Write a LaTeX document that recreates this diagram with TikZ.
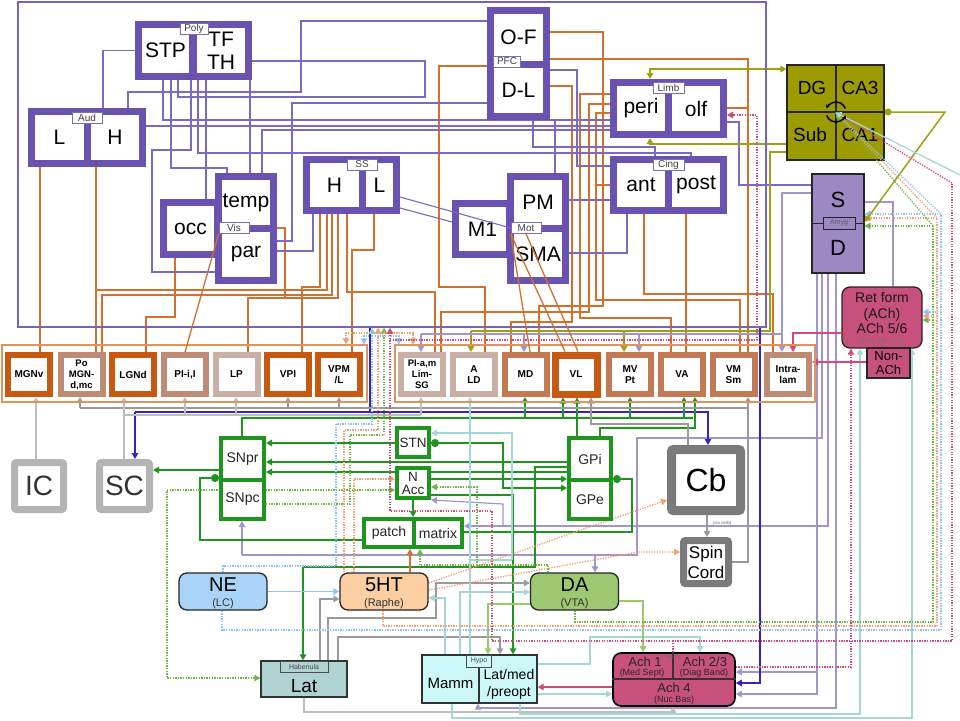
\documentclass[tikz,border=0pt]{standalone}
\usepackage{fontspec}
\setmainfont{Liberation Sans}
\usetikzlibrary{arrows.meta}
\definecolor{cpur}{HTML}{6A52B0}
\definecolor{lpur}{HTML}{7A6AC2}
\definecolor{lav}{HTML}{A394CC}
\definecolor{dorg}{HTML}{C65A12}
\definecolor{ctan}{HTML}{BC8C76}
\definecolor{ltan}{HTML}{C9B0A6}
\definecolor{morg}{HTML}{C27A55}
\definecolor{oline}{HTML}{D2702E}
\definecolor{grn}{HTML}{1E961E}
\definecolor{lgrn}{HTML}{98C870}
\definecolor{gbox}{HTML}{B4B4B4}
\definecolor{dgbox}{HTML}{7A7A7A}
\definecolor{gline}{HTML}{9A9A9A}
\definecolor{lgline}{HTML}{BEBEBE}
\definecolor{blu}{HTML}{3A22C0}
\definecolor{cyanl}{HTML}{A6D6D6}
\definecolor{pinkd}{HTML}{D2497A}
\definecolor{lblue}{HTML}{8EC4F2}
\definecolor{orgd}{HTML}{F2A070}
\definecolor{grnd}{HTML}{6FB848}
\definecolor{hipcol}{HTML}{9C9C00}
\definecolor{hipline}{HTML}{A0A010}
\definecolor{achcol}{HTML}{C8507C}
\definecolor{amycol}{HTML}{9B89C3}
\definecolor{necol}{HTML}{A9D3F7}
\definecolor{htcol}{HTML}{FBCFA2}
\definecolor{dacol}{HTML}{9DC771}
\definecolor{habcol}{HTML}{AFD3D0}
\definecolor{hypcol}{HTML}{CDF8F8}
\pgfdeclarelayer{bg}
\pgfsetlayers{bg,main}
\begin{document}
\begin{tikzpicture}[x=1pt,y=-1pt,
  pbox/.style={draw=cpur, line width=7pt, fill=white, inner sep=0pt, align=center, font=\fontsize{21}{23}\selectfont},
  ptab/.style={draw=cpur!85, line width=0.6pt, fill=white, inner sep=0pt, minimum height=11pt, font=\fontsize{10}{10}\selectfont, text=black!75},
  thbox/.style={line width=6pt, fill=white, minimum width=42pt, minimum height=39pt, inner sep=0pt, align=center, font=\bfseries\fontsize{10}{11.5}\selectfont},
  thd/.style={thbox, draw=dorg},
  tht/.style={thbox, draw=ctan},
  thl/.style={thbox, draw=ltan},
  thm/.style={thbox, draw=morg},
  gbx/.style={draw=grn, line width=4pt, fill=white, inner sep=0pt, align=center, font=\fontsize{14}{14}\selectfont, text=black!85},
  grb/.style={draw=gbox, line width=7pt, fill=white, inner sep=0pt, rounded corners=2pt, font=\fontsize{28}{28}\selectfont, text=black!80},
  chem/.style={rounded corners=8pt, draw=black!85, line width=1.3pt, inner sep=0pt, minimum width=88pt, minimum height=37pt},
  arr/.style={->, >={Triangle[length=6pt,width=6.5pt]}},
  barr/.style={<->, >={Triangle[length=6pt,width=6.5pt]}},
  dotl/.style={dash pattern=on 1.3pt off 1.3pt, line width=1.3pt},
  lo/.style={draw=oline, line width=1.3pt},
  lp/.style={draw=lpur, line width=1.1pt},
  lv/.style={draw=lav, line width=1.2pt},
  lg/.style={draw=grn, line width=1.6pt},
  lol/.style={draw=hipline, line width=1.5pt},
  lb/.style={draw=blu, line width=1.4pt},
  lgr/.style={draw=gline, line width=1.3pt},
  llg/.style={draw=lgline, line width=1.4pt},
  lc/.style={draw=cyanl, line width=1.3pt},
  lpk/.style={draw=pinkd, line width=1.3pt},
  lgn/.style={draw=lgrn, line width=1.5pt},
  lbs/.style={draw=lblue, line width=1.5pt},
  small/.style={font=\fontsize{#1}{#1}\selectfont}
]
\useasboundingbox (0,0) rectangle (960,720);

% ---------------- cortex frame
\node[draw=cpur!90, line width=1.5pt, minimum width=748pt, minimum height=325pt, inner sep=0pt] (ctx) at (392,164.5) {};

% Poly
\node[pbox, minimum width=54pt, minimum height=52pt] (stp) at (165.5,50.5) {STP};
\node[pbox, minimum width=55pt, minimum height=52pt] (tfth) at (221,50.5) {TF\\TH};
\node[ptab, minimum width=28pt] (polytab) at (194,28.5) {Poly};
% Aud
\node[pbox, minimum width=56pt, minimum height=52pt] (audL) at (59.5,137.5) {L};
\node[pbox, minimum width=55pt, minimum height=52pt] (audH) at (115,137.5) {H};
\node[ptab, minimum width=30pt] (audtab) at (87,117.5) {Aud};
% Vis
\node[pbox, minimum width=54pt, minimum height=52pt] (occ) at (190.5,228.5) {occ};
\node[pbox, minimum width=55pt, minimum height=52pt] (temp) at (246,202.5) {temp};
\node[pbox, minimum width=55pt, minimum height=52pt] (par) at (246,254.5) {par};
\node[ptab, minimum width=30pt] (vistab) at (234,228) {Vis};
% SS
\node[pbox, minimum width=56pt, minimum height=51pt] (ssH) at (334.5,185) {H};
\node[pbox, minimum width=34pt, minimum height=51pt] (ssL) at (379.5,185) {L};
\node[ptab, minimum width=30pt] (sstab) at (362,164.5) {SS};
% PFC
\node[pbox, minimum width=56pt, minimum height=54pt] (pfcOF) at (518.5,37.5) {O-F};
\node[pbox, minimum width=56pt, minimum height=52pt] (pfcDL) at (518.5,90.5) {D-L};
\node[ptab, minimum width=27pt] (pfctab) at (507,61.5) {PFC};
% Limb
\node[pbox, minimum width=55pt, minimum height=52pt] (peri) at (641,108.5) {peri};
\node[pbox, minimum width=55pt, minimum height=52pt] (olf) at (696,108.5) {olf};
\node[ptab, minimum width=31pt] (limbtab) at (668.5,88) {Limb};
% Cing
\node[pbox, minimum width=55pt, minimum height=51pt] (ant) at (641,185) {ant};
\node[pbox, minimum width=55pt, minimum height=51pt] (post) at (696,185) {post};
\node[ptab, minimum width=31pt] (cingtab) at (668.5,164.5) {Cing};
% Mot
\node[pbox, minimum width=54pt, minimum height=51pt] (m1) at (482.5,229) {M1};
\node[pbox, minimum width=55pt, minimum height=52pt] (pm) at (538,202.5) {PM};
\node[pbox, minimum width=55pt, minimum height=52pt] (sma) at (538,254.5) {SMA};
\node[ptab, minimum width=30pt] (mottab) at (526,228) {Mot};

% ---------------- hippocampus
\node[draw=black!85, fill=hipcol, line width=1.2pt, minimum width=97pt, minimum height=95pt, inner sep=0pt] (hip) at (835.5,112.5) {};
\draw[line width=1.2pt, black!85] (hip.west |- 0,112) -- (hip.east |- 0,112);
\draw[line width=1.2pt, black!85] (836,0 |- hip.north) -- (836,0 |- hip.south);
\node[small=19] (dgT) at (812,88) {DG};
\node[small=19] (ca3T) at (860,88) {CA3};
\node[small=19] (subT) at (810,135) {Sub};
\node[small=19] (ca1T) at (860,135) {CA1};

% ---------------- amygdala
\node[draw=black!85, fill=amycol, line width=1.2pt, minimum width=52pt, minimum height=99pt, inner sep=0pt] (amyg) at (838,223.5) {};
\node[small=22] (amyS) at (838,200) {S};
\node[small=22] (amyD) at (838,248) {D};
\node[draw=black!85, fill=amycol, line width=1pt, inner sep=0pt, minimum width=32pt, minimum height=12pt, small=7, text=black!65] (amytab) at (839,223) {Amyg};
\draw[line width=1pt, black!85] (amyg.west |- amytab.west) -- (amytab.west);
\draw[line width=1pt, black!85] (amytab.east) -- (amyg.east |- amytab.east);

% ---------------- reticular formation
\node[draw=black!85, fill=achcol, line width=1.3pt, rounded corners=8pt, minimum width=80pt, minimum height=61pt, inner sep=0pt] (retform) at (882,317.5) {};
\node[font=\fontsize{14}{15.5}\selectfont, align=center, text=black!90] (rftxt) at (882,313) {Ret form\\(ACh)\\ACh 5/6};
\node[small=6.5, text=black!55] (rfsub) at (882,342) {(FTC, PB, LOT)};
\node[draw=black!85, fill=achcol, line width=1.2pt, minimum width=43pt, minimum height=30pt, inner sep=0pt, align=center, font=\fontsize{13}{14}\selectfont] (nonach) at (888.5,363) {Non-\\ACh};

% ---------------- thalamus
\node[draw=oline!75, line width=1.1pt, minimum width=365pt, minimum height=57pt, inner sep=0pt] (thL) at (184.5,373.5) {};
\node[draw=oline!75, line width=1.1pt, minimum width=420pt, minimum height=57pt, inner sep=0pt] (thR) at (605,373.5) {};
\node[thd] (mgnv) at (29,374.5) {MGNv};
\node[tht, font=\bfseries\fontsize{9.5}{11}\selectfont] (po) at (81.5,374.5) {Po\\MGN-\\d,mc};
\node[thd] (lgnd) at (133,374.5) {LGNd};
\node[tht] (pii) at (185,374.5) {PI-i,I};
\node[thl] (lp) at (236.5,374.5) {LP};
\node[thd] (vpi) at (288,374.5) {VPI};
\node[thd] (vpml) at (339,374.5) {VPM\\/L};
\node[thl, font=\bfseries\fontsize{9.5}{11}\selectfont] (pia) at (422,374.5) {PI-a,m\\Lim-\\SG};
\node[thl] (ald) at (474,374.5) {A\\LD};
\node[thm] (md) at (525.5,374.5) {MD};
\node[thd, line width=7pt] (vl) at (576,374.5) {VL};
\node[thm] (mvpt) at (630,374.5) {MV\\Pt};
\node[thm] (va) at (682,374.5) {VA};
\node[thm] (vmsm) at (733.5,374.5) {VM\\Sm};
\node[tht] (intra) at (788,374.5) {Intra-\\lam};

% ---------------- lower nodes
\node[grb, minimum width=49pt, minimum height=47pt] (ic) at (39,486) {IC};
\node[grb, minimum width=50pt, minimum height=47pt] (sc) at (124.5,486) {SC};
\node[gbx, minimum width=43pt, minimum height=42pt] (snpr) at (242.5,459) {SNpr};
\node[gbx, minimum width=43pt, minimum height=39pt] (snpc) at (242.5,499.5) {SNpc};
\node[gbx, minimum width=32pt, minimum height=29pt, font=\fontsize{13.5}{13.5}\selectfont] (stn) at (413,442.5) {STN};
\node[gbx, minimum width=32pt, minimum height=30pt, font=\fontsize{13.5}{13}\selectfont] (nacc) at (413,483) {N\\Acc};
\node[gbx, minimum width=50pt, minimum height=28pt] (patch) at (389,533) {patch};
\node[gbx, minimum width=48pt, minimum height=28pt] (matrix) at (438,533) {matrix};
\node[gbx, minimum width=42pt, minimum height=42pt] (gpi) at (590,459) {GPi};
\node[gbx, minimum width=42pt, minimum height=39pt] (gpe) at (590,499.5) {GPe};
\node[draw=dgbox, line width=9pt, fill=white, minimum width=69pt, minimum height=61pt, inner sep=0pt, rounded corners=2pt, font=\fontsize{32}{32}\selectfont] (cb) at (706,480) {Cb};
\node[draw=dgbox, line width=7pt, fill=white, minimum width=45pt, minimum height=43pt, inner sep=0pt, rounded corners=2pt, align=center, font=\fontsize{17}{20}\selectfont] (spin) at (706,562) {Spin\\Cord};
\node[small=4.5, text=black!60] (viacerb) at (722,523) {(via cerb)};

\node[chem, fill=necol] (ne) at (223,591.5) {};
\node[small=20] (netxt) at (223,585) {NE};
\node[small=11, text=black!80] (nesub) at (223,603.5) {(LC)};
\node[chem, fill=htcol] (ht5) at (384,591.5) {};
\node[small=20] (httxt) at (384,585) {5HT};
\node[small=11, text=black!80] (htsub) at (384,603.5) {(Raphe)};
\node[chem, fill=dacol] (da) at (574.5,591.5) {};
\node[small=20] (datxt) at (574.5,585) {DA};
\node[small=11, text=black!80] (dasub) at (574.5,603.5) {(VTA)};

\node[draw=black!80, fill=habcol, line width=1.3pt, minimum width=86pt, minimum height=36pt, inner sep=0pt] (lat) at (304,679) {};
\node[draw=black!70, fill=habcol, line width=0.8pt, inner sep=0pt, minimum width=48pt, minimum height=11pt, small=7, text=black!70] (habtab) at (304,666.5) {Habenula};
\node[small=19] (lattxt) at (304,686) {Lat};

\node[draw=black!80, fill=hypcol, line width=1.3pt, minimum width=57pt, minimum height=48pt, inner sep=0pt] (mamm) at (450.5,679) {};
\node[draw=black!80, fill=hypcol, line width=1.3pt, minimum width=58pt, minimum height=48pt, inner sep=0pt] (latmed) at (508,679) {};
\node[small=15] (mammtxt) at (450.5,683) {Mamm};
\node[font=\fontsize{14}{17}\selectfont, align=center] (latmedtxt) at (509,684) {Lat/med\\/preopt};
\node[draw=black!70, fill=hypcol, line width=0.8pt, inner sep=0pt, minimum width=25pt, minimum height=12pt, small=7, text=black!70] (hyptab) at (479,661) {Hypo};

\node[draw=black, line width=1.6pt, fill=achcol, rounded corners=8pt, minimum width=122pt, minimum height=53pt, inner sep=0pt] (ach) at (674,679.5) {};
\draw[line width=1.1pt, black!80] (ach.west |- 0,679) -- (ach.east |- 0,679);
\draw[line width=1.1pt, black!80] (673,0 |- ach.north) -- (673,679);
\node[small=13, text=black!85] (ach1) at (645,662) {Ach 1};
\node[small=9, text=black!85] (ach1s) at (642,673) {(Med Sept)};
\node[small=13, text=black!85] (ach23) at (705,662) {Ach 2/3};
\node[small=9, text=black!85] (ach23s) at (704,673) {(Diag Band)};
\node[small=13, text=black!85] (ach4) at (674,688) {Ach 4};
\node[small=9, text=black!85] (ach4s) at (674,700) {(Nuc Bas)};
\node[small=4.5, text=black!60] (achtab) at (673,656.5) {Bas Fb};

% ================= connectors (background)
\begin{pgfonlayer}{bg}
\fill[white] (0,0) rectangle (960,720);
% --- orange: cortex -> thalamus
\draw[lo] (40,0 |- audL.south) -- (40,0 |- mgnv.north);
\draw[lo] (96,0 |- audH.south) -- (96,0 |- po.north);
\draw[lo] (175,0 |- occ.south) -- (175,317) -- (146,317) -- (146,0 |- lgnd.north);
\draw[lo] (temp.east |- 0,228) -- (285,228) -- (285,298) -- (248,298) -- (248,0 |- lp.north);
\draw[lo] (320,0 |- ssH.south) -- (320,287) -- (302,287) -- (302,0 |- vpi.north);
\draw[lo] (327,0 |- ssH.south) -- (327,290) -- (96,290);
\draw[lo] (332,0 |- ssH.south) -- (332,295) -- (102,295) -- (102,0 |- po.north);
\draw[lo] (338,0 |- ssH.south) -- (338,298) -- (285,298);
\draw[lo] (347,0 |- ssH.south) -- (347,292) -- (435,292) -- (435,0 |- pia.north);
\draw[lo] (374,0 |- ssL.south) -- (374,250) -- (352,250) -- (352,0 |- vpml.north);
\draw[lo] (peri.west |- 0,94) -- (580,94) -- (580,318) -- (671,318) -- (671,0 |- va.north);
\draw[lo] (peri.west |- 0,104) -- (589,104) -- (589,312) -- (441,312) -- (441,0 |- pia.north);
\draw[lo] (peri.west |- 0,113) -- (596,113) -- (596,300) -- (740,300) -- (740,0 |- vmsm.north);
\draw[lo] (ant.west) -- (596,0 |- ant.west);
\draw[lo] (pfcOF.east |- 0,32) -- (603,32) -- (603,306) -- (539,306) -- (539,0 |- md.north);
\draw[lo] (pfcDL.east |- 0,86) -- (572,86) -- (572,322) -- (511,322) -- (511,0 |- md.north);
\draw[lo] (pfcDL.west |- 0,66) -- (439,66) -- (439,287) -- (485,287) -- (485,0 |- ald.north);
\draw[lo] (pfcOF.east |- 0,59) -- (748,59) -- (748,0 |- vmsm.north);
\draw[lo] (olf.east |- 0,108) -- (748,108);
\draw[lo] (644,0 |- ant.south) -- (644,294) -- (773,294) -- (773,0 |- intra.north);
\draw[lo] (686,0 |- post.south) -- (686,0 |- va.north);
% --- purple: cortico-cortical
\draw[lp] (stp.west) -- (103,0 |- stp.west) -- (103,0 |- audH.north);
\draw[lp] (128,0 |- audH.north) -- (128,92) -- (301,92) -- (301,21) -- (pfcOF.west |- 0,21);
\draw[lp] (tfth.east |- 0,61) -- (425,61) -- (425,97) -- (178,97) -- (178,0 |- stp.south);
\draw[lp] (audH.east |- 0,126) -- (peri.west |- 0,126);
\draw[lp] (163,0 |- stp.south) -- (163,120) -- (peri.west |- 0,120);
\draw[lp] (171,0 |- stp.south) -- (171,168) -- (227,168) -- (227,0 |- temp.north);
\draw[lp] (206,0 |- tfth.south) -- (206,0 |- occ.north);
\draw[lp] (250,0 |- tfth.south) -- (250,0 |- temp.north);
\draw[lp] (par.west |- 0,272) -- (152,272) -- (152,150) -- (191,150) -- (191,0 |- stp.south);
\draw[lp] (198,0 |- tfth.south) -- (198,153) -- (691,153) -- (691,0 |- post.north);
\draw[lp] (par.east |- 0,241) -- (292,241) -- (292,103) -- (pfcDL.west |- 0,103);
\draw[lp] (262,0 |- temp.north) -- (262,130) -- (peri.west |- 0,130);
\draw[lp] (par.east |- 0,251) -- (313,251) -- (313,0 |- ssH.south);
\draw[lp] (ssL.east |- 0,208) -- (m1.west |- 0,222);
\draw[lp] (533,0 |- pfcDL.south) -- (533,147) -- (655,147) -- (655,0 |- ant.north);
\draw[lp] (555,0 |- pfcDL.south) -- (555,0 |- pm.north);
\draw[lp] (pfcDL.east |- 0,70) -- (577,70) -- (577,166) -- (ant.west |- 0,166);
\draw[lp] (pm.east |- 0,200) -- (ant.west |- 0,200);
\draw[lp] (sma.east |- 0,253) -- (627,253) -- (627,0 |- ant.south);
\draw[lp] (olf.east |- 0,122) -- (739,122) -- (739,185) -- (amyg.west |- 0,185);
% --- hippocampus (olive)
\draw[lol, barr] (650,0 |- peri.north) -- (650,69) -- (hip.west |- 0,69);
\draw[lol, arr] (hip.west |- 0,144) -- (650,144) -- (650,0 |- peri.south);
\draw[lol] (hip.west |- 0,152) -- (770,152) -- (770,331) -- (471,331);
\draw[lol, arr] (471,331) -- (471,0 |- ald.north);
\draw[lol, arr] (624,331) -- (624,0 |- mvpt.north);
% --- amygdala (lavender)
\draw[lv] (amyg.west |- 0,193) -- (782,193) -- (782,334) -- (421,334);
\draw[lv, arr] (421,334) -- (421,0 |- pia.north);
\draw[lv, arr] (524,334) -- (524,0 |- md.north);
\draw[lv, arr] (639,334) -- (639,0 |- mvpt.north);
\draw[lv, arr] (782,334) -- (782,0 |- intra.north);
\draw[lv] (amyg.east |- 0,202) -- (893,202) -- (893,0 |- retform.north);
\draw[lv] (822,0 |- amyg.south) -- (822,438) -- (637,438) -- (637,555) -- (242,555);
\draw[lv, arr] (242,555) -- (242,0 |- snpc.south);
\draw[lv, arr] (595,555) -- (595,0 |- da.north);
\draw[lv, arr] (828,0 |- amyg.south) -- (828,526) -- (matrix.east |- 0,526);
\draw[lv, arr] (503,526) -- (503,504) -- (nacc.south east);
\draw[lv, arr] (817,0 |- amyg.south) -- (817,694) -- (ach.east |- 0,694);
\draw[lv, arr] (817,672) -- (ach.east |- 0,672);
\draw[lv, arr] (836,0 |- amyg.south) -- (836,708) -- (478,708) -- (478,0 |- latmed.south);
% --- cortex output (blue)
\draw[lb] (370,0 |- ctx.south) -- (370,412) -- (135,412);
\draw[lb, arr] (135,412) -- (135,0 |- sc.north);
\draw[lb, arr] (370,412) -- (708,412) -- (708,0 |- cb.north);
\draw[lb, arr] (760,0 |- ctx.south) -- (760,683) -- (ach.east |- 0,683);
% --- basal ganglia (green)
\draw[lg, arr] (snpr.west |- 0,470) -- (sc.east |- 0,470);
\draw[lg, arr] (stn.west |- 0,443) -- (snpr.east |- 0,443);
\draw[lg, arr] (gpi.west |- 0,462) -- (snpr.east |- 0,462);
\draw[lg, arr] (gpi.west |- 0,472) -- (snpr.east |- 0,472);
\draw[lg, {Circle[length=8pt]}-{Triangle[length=6pt,width=6.5pt]}] (stn.east |- 0,443) -- (503,443) -- (503,488) -- (gpe.west |- 0,488);
\draw[lg, arr] (nacc.east |- 0,479) -- (gpi.west |- 0,479);
\draw[lg, {Circle[length=8pt]}-] (gpi.east |- 0,479) -- (632,479) -- (632,532) -- (matrix.east |- 0,532);
\draw[lg] (242,0 |- snpr.north) -- (242,418) -- (693,418);
\draw[lg, arr] (525,418) -- (525,0 |- md.south);
\draw[lg, arr] (563,418) -- (563,0 |- vl.south);
\draw[lg, arr] (630,418) -- (630,0 |- mvpt.south);
\draw[lg, arr] (684,418) -- (684,0 |- va.south);
\draw[lg, arr] (577,0 |- gpi.north) -- (577,0 |- vl.south);
\draw[lg, arr] (600,0 |- gpi.north) -- (600,428) -- (695,428) -- (695,0 |- va.south);
\draw[lg, {Circle[length=8pt]}-] (snpc.north west) -- (200,0 |- snpc.north west) -- (200,540) -- (patch.west |- 0,540);
\draw[lg, arr] (nacc.south) -- (nacc.south |- patch.north);
\draw[lg, arr] (gpi.west |- 0,467) -- (535,467) -- (535,567) -- (303,567) -- (303,0 |- lat.north);
\draw[lg, arr] (nacc.east |- 0,495) -- (513,495) -- (513,0 |- latmed.north);
% --- cerebellum / spinal (gray)
\draw[lgr, arr] (688,0 |- cb.north) -- (688,424) -- (591,424) -- (591,0 |- vl.south);
\draw[lgr, arr] (spin.east |- 0,562) -- (748,562) -- (748,0 |- vmsm.south);
\draw[lgr, arr] (707,0 |- cb.south) -- (707,0 |- spin.north);
\draw[lgr] (748,408) -- (80,408);
\draw[lgr, arr] (80,408) -- (80,0 |- po.south);
\draw[lgr, arr] (288,408) -- (288,0 |- vpi.south);
\draw[lgr, arr] (339,408) -- (339,0 |- vpml.south);
% --- colliculi (light gray)
\draw[llg, arr] (36,0 |- ic.north) -- (36,0 |- mgnv.south);
\draw[llg, arr] (124,0 |- sc.north) -- (124,0 |- lgnd.south);
\draw[llg] (124,415) -- (421,415);
\draw[llg, arr] (185,415) -- (185,0 |- pii.south);
\draw[llg, arr] (236,415) -- (236,0 |- lp.south);
\draw[llg, arr] (421,415) -- (421,0 |- pia.south);
% --- habenula (gray)
\draw[lgr, arr] (320,0 |- lat.north) -- (320,599) -- (ht5.west |- 0,599);
\draw[lgr, arr] (328,0 |- lat.north) -- (328,618) -- (436,618) -- (436,583) -- (da.west |- 0,583);
\draw[lgr, arr] (338,0 |- lat.north) -- (338,637) -- (500,637) -- (500,0 |- latmed.north);
\draw[llg, arr] (304,0 |- lat.south) -- (304,712) -- (673,712) -- (673,0 |- ach.south);
% --- hypothalamus (light cyan)
\draw[lc, arr] (445,0 |- mamm.north) -- (445,598) -- (ht5.east |- 0,598);
\draw[lc, arr] (470,0 |- mamm.north) -- (470,0 |- ald.south);
\draw[lc, arr] (460,0 |- mamm.north) -- (460,592) -- (da.west |- 0,592);
\draw[lc, arr] (512,560) -- (512,433) -- (stn.east |- 0,433);
\draw[lc] (470,560) -- (512,560);
\draw[lc, arr] (latmed.east |- 0,694) -- (ach.west |- 0,694);
\draw[lc, arr] (latmed.east |- 0,664) -- (590,664) -- (590,637) -- (700,637) -- (700,0 |- ach.north);
\draw[lc, arr] (520,0 |- latmed.south) -- (520,714) -- (860,714) -- (860,0 |- retform.south);
\draw[lc, arr] (452,0 |- mamm.south) -- (452,718) -- (912,718) -- (912,0 |- retform.south);
% --- DA / NE solid
\draw[lgn, arr] (da.east |- 0,601) -- (643,601) -- (643,0 |- ach.north);
\draw[lgn, arr] (da.west |- 0,604) -- (488,604) -- (488,0 |- latmed.north);
\draw[lbs, arr] (ne.east) -- (ht5.west);
% --- pink solid
\draw[lpk, arr] (retform.west |- 0,333) -- (793,333) -- (793,0 |- intra.north);
\draw[lpk, arr] (nonach.west |- 0,362) -- (intra.east |- 0,362);
\draw[lpk, arr] (ach.west |- 0,687) -- (latmed.east |- 0,687);
% --- dotted neuromodulator projections
\draw[dotl, draw=grnd, barr] (nacc.west |- 0,490) -- (167,490) -- (167,678) -- (lat.west |- 0,678);
\draw[dotl, draw=grnd, arr] (snpc.east |- 0,504) -- (350,504) -- (350,435) -- (384,435) -- (384,0 |- ctx.south);
\draw[dotl, draw=grnd] (575,0 |- da.south) -- (575,622) -- (933,622) -- (933,226);
\draw[dotl, draw=grnd, arr] (933,226) -- (amyg.east |- 0,226);
\draw[dotl, draw=grnd, arr] (933,320) -- (retform.east |- 0,320);
\draw[dotl, draw=grnd, arr] (548,0 |- da.north) -- (548,565) -- (477,565) -- (477,487) -- (nacc.east |- 0,487);
\draw[dotl, draw=grnd, arr] (477,565) -- (420,565) -- (420,0 |- matrix.south);
\draw[dotl, draw=orgd] (383,0 |- ht5.south) -- (383,626) -- (937,626) -- (937,218);
\draw[dotl, draw=orgd, arr] (937,218) -- (amyg.east |- 0,218);
\draw[dotl, draw=orgd, arr] (937,316) -- (retform.east |- 0,316);
\draw[dotl, draw=orgd, arr] (354,0 |- ht5.north) -- (354,479) -- (nacc.west |- 0,479);
\draw[dotl, draw=orgd, arr] (344,0 |- ht5.north) -- (344,430) -- (378,430) -- (378,0 |- ctx.south);
\draw[dotl, draw=orgd, arr] (378,333) -- (346,333) -- (346,0 |- thL.north);
\draw[dotl, draw=orgd, arr] (378,333) -- (413,333) -- (413,0 |- thR.north);
\draw[dotl, draw=orgd, arr] (ht5.east |- 0,583) -- (cb.west |- 0,500);
\draw[dotl, draw=orgd, arr] (ht5.east |- 0,590) -- (638,552) -- (spin.west |- 0,552);
\draw[lo, arr] (410,0 |- ht5.north) -- (410,0 |- patch.south);
\draw[dotl, draw=lblue] (222,0 |- ne.south) -- (222,630) -- (941,630) -- (941,214);
\draw[dotl, draw=lblue, arr] (941,214) -- (amyg.east |- 0,214);
\draw[dotl, draw=lblue, arr] (941,312) -- (retform.east |- 0,312);
\draw[dotl, draw=lblue, arr] (ne.north) -- (223,566) -- (336,566) -- (336,424) -- (372,424) -- (372,0 |- ctx.south);
\draw[dotl, draw=lblue, arr] (372,336) -- (364,336) -- (364,0 |- thL.north);
\draw[dotl, draw=lblue, arr] (372,336) -- (399,336) -- (399,0 |- thR.north);
\draw[dotl, draw=pinkd] (673,0 |- ach.north) -- (673,641) -- (952,641) -- (952,183);
\draw[dotl, draw=pinkd, arr] (673,641) -- (492,641) -- (492,511) -- (390,511) -- (390,0 |- ctx.south);
\draw[dotl, draw=pinkd, arr] (ach.east |- 0,667) -- (851,667) -- (851,0 |- retform.south);
\draw[dotl, draw=pinkd, arr] (390,340) -- (757,340) -- (757,115) -- (olf.east |- 0,115);
\end{pgfonlayer}

% ================= connectors drawn over boxes
\draw[lo] (vistab.south west) -- (185,0 |- pii.north);
\draw[lo] (mottab.south west) -- (530,0 |- md.north);
\draw[lo] (mottab.south west) -- (565,0 |- vl.north);
\draw[lo] (mottab.south) -- (578,0 |- vl.north);
\draw[lp] (ssL.east |- 0,197) -- (mottab.west);
\draw[lol, {Circle[length=7pt]}-{Triangle[length=6pt,width=6.5pt]}] (hip.east |- 0,112) -- (945,112) -- (amyg.east |- 0,222);
\draw[dotl, draw=pinkd, arr] (952,183) -- (hip.center);
\draw[dotl, draw=lblue, arr] (941,214) -- (hip.center);
\draw[dotl, draw=orgd, arr] (937,218) -- (hip.center);
\draw[dotl, draw=grnd, arr] (933,226) -- (hip.center);
\draw[lc, arr] (962,176) -- (hip.center);
\draw[line width=1.5pt, -{Stealth[length=4pt,width=4.5pt]}] (845.4,108.6) arc[start angle=-20, end angle=-160, radius=10];
\draw[line width=1.5pt, -{Stealth[length=4pt,width=4.5pt]}] (826.6,115.4) arc[start angle=160, end angle=20, radius=10];
\end{tikzpicture}
\end{document}
